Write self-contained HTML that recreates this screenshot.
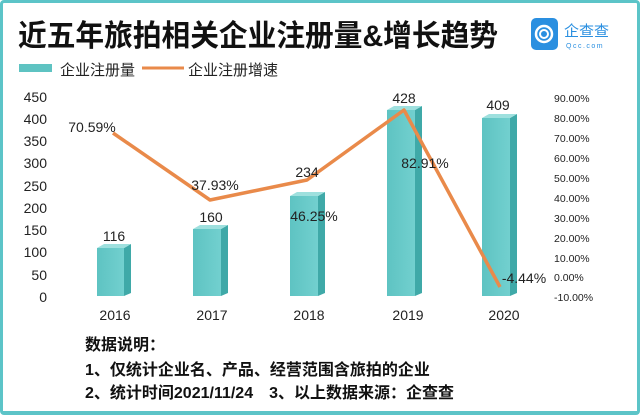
<!DOCTYPE html>
<html><head><meta charset="utf-8"><style>
body{margin:0;width:640px;height:415px;overflow:hidden;background:#fff;font-family:"Liberation Sans","Noto Sans CJK SC",sans-serif}
.frame{position:absolute;left:0;top:0;width:634px;height:408px;border:3px solid #5cc4c8;border-bottom-width:4px;border-radius:4px;background:#fff}
</style></head><body>
<div class="frame"></div>
<svg width="640" height="415" style="position:absolute;left:0;top:0" font-family="Liberation Sans, Noto Sans CJK SC, sans-serif">
<defs>
<linearGradient id="bf" x1="0" x2="1"><stop offset="0" stop-color="#5ec3c2"/><stop offset="1" stop-color="#72d0cf"/></linearGradient>
</defs>
<text x="18" y="46" font-size="30" font-weight="bold" fill="#111" textLength="480" lengthAdjust="spacingAndGlyphs">近五年旅拍相关企业注册量&amp;增长趋势</text>
<rect x="531" y="18" width="27" height="32" rx="5" fill="#2a8fe0"/>
<circle cx="544" cy="34" r="8" fill="none" stroke="#fff" stroke-width="2.5"/>
<circle cx="544" cy="34" r="4" fill="none" stroke="#fff" stroke-width="2"/>
<text x="564" y="36" font-size="15" fill="#2a8fe0">企查查</text>
<text x="566" y="48" font-size="7" fill="#2a8fe0" letter-spacing="1.5">Qcc.com</text>
<rect x="19" y="64" width="33" height="8" fill="#5ec3c2"/>
<text x="60" y="75" font-size="15" fill="#222">企业注册量</text>
<line x1="142" y1="68" x2="184" y2="68" stroke="#e98a4a" stroke-width="3"/>
<text x="188" y="75" font-size="15" fill="#222">企业注册增速</text>
<g font-size="14" fill="#222" text-anchor="end">
<text x="47" y="102">450</text><text x="47" y="124">400</text><text x="47" y="146">350</text><text x="47" y="168">300</text><text x="47" y="191">250</text><text x="47" y="213">200</text><text x="47" y="235">150</text><text x="47" y="257">100</text><text x="47" y="280">50</text><text x="47" y="302">0</text>
</g>
<g font-size="10.5" fill="#222">
<text x="554" y="102">90.00%</text><text x="554" y="122">80.00%</text><text x="554" y="142">70.00%</text><text x="554" y="162">60.00%</text><text x="554" y="182">50.00%</text><text x="554" y="202">40.00%</text><text x="554" y="222">30.00%</text><text x="554" y="242">20.00%</text><text x="554" y="262">10.00%</text><text x="554" y="281">0.00%</text><text x="554" y="301">-10.00%</text>
</g>
<g fill="url(#bf)">
<rect x="97" y="248" width="27" height="48"/><rect x="193" y="229" width="28" height="67"/><rect x="290" y="196" width="28" height="100"/><rect x="387" y="110" width="28" height="186"/><rect x="482" y="118" width="28" height="178"/>
</g>
<g fill="#3fa9a8">
<polygon points="124,248 131,244 131,293 124,296"/><polygon points="221,229 228,225 228,293 221,296"/><polygon points="318,196 325,192 325,293 318,296"/><polygon points="415,110 422,106 422,293 415,296"/><polygon points="510,118 517,114 517,293 510,296"/>
</g>
<g fill="#9ee0de">
<polygon points="97,248 104,244 131,244 124,248"/><polygon points="193,229 200,225 228,225 221,229"/><polygon points="290,196 297,192 325,192 318,196"/><polygon points="387,110 394,106 422,106 415,110"/><polygon points="482,118 489,114 517,114 510,118"/>
</g>
<polyline points="113,133 210,200 307,180 404,110 500,287" fill="none" stroke="#e98a4a" stroke-width="3.5" stroke-linejoin="round"/>
<g font-size="14" fill="#222" text-anchor="middle">
<text x="114" y="241">116</text><text x="211" y="222">160</text><text x="307" y="177">234</text><text x="404" y="103">428</text><text x="498" y="110">409</text>
<text x="92" y="132">70.59%</text><text x="215" y="190">37.93%</text><text x="314" y="221">46.25%</text><text x="425" y="168">82.91%</text><text x="524" y="283">-4.44%</text>
</g>
<g font-size="14" fill="#222" text-anchor="middle">
<text x="115" y="320">2016</text><text x="212" y="320">2017</text><text x="309" y="320">2018</text><text x="408" y="320">2019</text><text x="504" y="320">2020</text>
</g>
<g font-size="16" font-weight="bold" fill="#111">
<text x="85" y="350">数据说明：</text>
<text x="85" y="375">1、仅统计企业名、产品、经营范围含旅拍的企业</text>
<text x="85" y="398">2、统计时间2021/11/24　3、以上数据来源：企查查</text>
</g>
</svg>
</body></html>
